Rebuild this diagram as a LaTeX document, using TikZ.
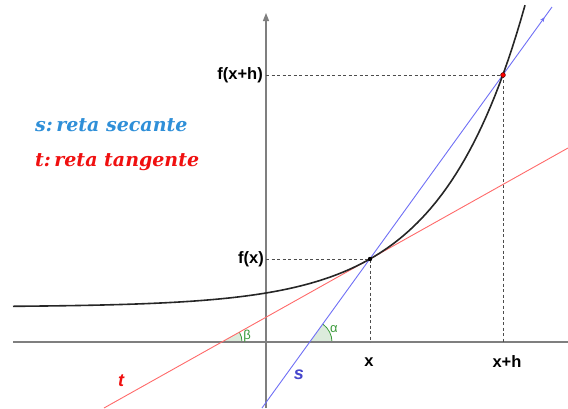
\documentclass[tikz,border=0pt]{standalone}
\usepackage{fontspec}
\setmainfont{Liberation Sans}
\newfontfamily\legendfont{DejaVu Serif}
\usetikzlibrary{arrows.meta,decorations.markings}
\definecolor{axisgray}{HTML}{7F7F7F}
\definecolor{secblue}{HTML}{6F6FF5}
\definecolor{tanred}{HTML}{FF6A6A}
\definecolor{legblue}{HTML}{2F8FD8}
\definecolor{legred}{HTML}{F01010}
\definecolor{sblue}{HTML}{4646CC}
\definecolor{anggreen}{HTML}{3A9A3A}
\definecolor{angfill}{HTML}{DCEBDC}
\tikzset{
  axisline/.style={draw=axisgray, line width=1.3pt},
  guide/.style={draw=black!70, dashed, dash pattern=on 3pt off 2.5pt, line width=1pt},
  axlabel/.style={font=\fontsize{16.5}{18}\selectfont\bfseries, inner sep=1pt},
  legend/.style={anchor=west, inner sep=0pt},
  anglab/.style={text=anggreen, font=\fontsize{13}{15}\selectfont, inner sep=0pt}
}
\begin{document}
\begin{tikzpicture}[x=1pt,y=-1pt]
\useasboundingbox (0,0) rectangle (568,408);
% key points
\coordinate (P) at (370,259);
\coordinate (Q) at (503,75);
\coordinate (B) at (222,342);
\coordinate (A) at (310,342);
\coordinate (Xa) at (370,342);
\coordinate (Xh) at (503,342);
\coordinate (Yp) at (266,259);
\coordinate (Yq) at (266,75);
% angle fills
\fill[angfill] (B) -- ++(20,0) arc[start angle=0, end angle=-29.3, radius=20] -- cycle;
\draw[anggreen, line width=0.8pt] (B) ++(20,0) arc[start angle=0, end angle=-29.3, radius=20];
\fill[angfill] (A) -- ++(22,0) arc[start angle=0, end angle=-54.1, radius=22] -- cycle;
\draw[anggreen, line width=0.8pt] (A) ++(22,0) arc[start angle=0, end angle=-54.1, radius=22];
% axes
\coordinate (xl) at (13,342);
\coordinate (xr) at (568,342);
\coordinate (yb) at (266,408);
\coordinate (yt) at (266,13);
\draw[axisline] (xl) -- (xr);
\draw[axisline, -{Triangle[length=8pt,width=6pt]}, draw=axisgray] (yb) -- (yt);
% guides
\draw[guide] (Yq) -- (Q) -- (Xh);
\draw[guide] (Yp) -- (P) -- (Xa);
% tangent
\coordinate (t1) at (104,408);
\coordinate (t2) at (568,148);
\draw[tanred, line width=0.9pt] (t1) -- (t2);
% secant
\coordinate (s1) at (262,408);
\coordinate (s2) at (552,7);
\draw[secblue, line width=0.9pt,
  postaction={decorate, decoration={markings, mark=at position 0.975 with {\arrow{Stealth[length=5pt,width=4pt]}}}}] (s1) -- (s2);
% curve
\draw[black!85, line width=1.6pt] plot[domain=13:525, samples=120] (\x, {342-(35+14*exp(0.01185*(\x-266)))});
% points
\fill[black] (P) circle (2.2pt);
\filldraw[fill=red, draw=black!70!red, line width=0.5pt] (Q) circle (2.4pt);
% labels
\node[axlabel, anchor=east] (lfxh) at (264,75) {f(x+h)};
\node[axlabel, anchor=east] (lfx) at (265,259) {f(x)};
\node[axlabel] (lx) at (369,362) {x};
\node[axlabel] (lxh) at (507,362) {x+h};
\node[font=\fontsize{18}{20}\selectfont\bfseries\itshape, text=sblue] (ls) at (299,375) {s};
\node[font=\fontsize{18}{20}\selectfont\bfseries\itshape, text=legred] (lt) at (121,381) {t};
\node[anglab] (lbeta) at (247,336) {β};
\node[anglab] (lalpha) at (334,329) {α};
\node[legend, text=legblue] (legs) at (35,125) {\legendfont\fontsize{19}{21}\selectfont\bfseries\itshape s:\hspace{0.18em}reta secante};
\node[legend, text=legred] (legt) at (35,162) {\legendfont\fontsize{19}{21}\selectfont\bfseries\itshape t:\hspace{0.18em}reta tangente};
\end{tikzpicture}
\end{document}
